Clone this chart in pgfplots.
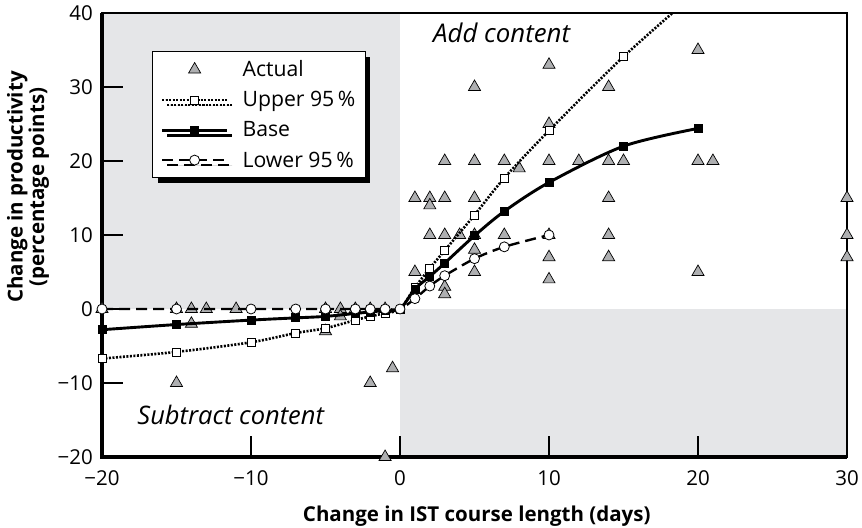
\documentclass[border=0pt]{standalone}
\usepackage{fontspec}
\setmainfont{Open Sans}
\usepackage{pgfplots}
\pgfplotsset{compat=1.18}
\usetikzlibrary{shadows}
\definecolor{bgshade}{HTML}{E5E6E8}
\definecolor{trifill}{HTML}{AEAFB1}
\begin{document}
\begin{tikzpicture}[font=\fontsize{20.5}{24.6}\selectfont]
\begin{axis}[
  name=ax,
  set layers,
  scale only axis,
  width=745pt, height=444pt,
  xmin=-20, xmax=30, ymin=-20, ymax=40,
  xtick={-20,-10,0,10,20,30},
  xticklabels={−20,−10,0,10,20,30},
  ytick={-20,-10,0,10,20,30,40},
  yticklabels={−20,−10,0,10,20,30,40},
  tick align=inside,
  tick pos=left,
  major tick length=21pt,
  tick style={line width=1.2pt, black},
  axis line style={line width=1.3pt},
  ticklabel style={font=\fontsize{20.5}{24.6}\selectfont},
  xticklabel style={inner sep=0pt, yshift=-13.5pt},
  yticklabel style={inner sep=0pt, xshift=-9pt},
  clip mode=individual,
  xlabel={Change in IST course length (days)},
  xlabel style={font=\bfseries\fontsize{20.5}{24.6}\selectfont, at={(axis description cs:0.503,-0.1457)}, anchor=base},
  ylabel={Change in productivity\\(percentage points)},
  ylabel style={font=\bfseries\fontsize{20.5}{20}\selectfont, align=center, at={(axis description cs:-0.0993,0.608)}, anchor=center},
  legend cell align=left,
  legend style={at={(axis description cs:0.0671,0.9144)}, anchor=north west,
    draw=black, line width=1.4pt, fill=white,
    font=\fontsize{21.2}{25}\selectfont,
    drop shadow={fill=black, opacity=1, shadow xshift=5pt, shadow yshift=-5pt},
    inner xsep=8pt, inner ysep=7pt, row sep=9.3pt, column sep=12pt},
  legend image code/.code={\draw[mark repeat=2,mark phase=2,#1] plot coordinates {(0pt,0pt) (32.5pt,0pt) (65pt,0pt)};},
]
\begin{pgfonlayer}{axis background}
\fill[bgshade] (axis cs:-20,0) rectangle (axis cs:0,40);
\fill[bgshade] (axis cs:0,-20) rectangle (axis cs:30,0);
\end{pgfonlayer}
\begin{pgfonlayer}{axis lines}
\draw[line width=3.6pt] (rel axis cs:0,1) -- (rel axis cs:0,0) -- (rel axis cs:1,0);
\end{pgfonlayer}

\addplot[only marks, mark=triangle*, mark size=7pt, mark options={fill=trifill, draw=black, line width=0.7pt}] coordinates {
(-20,0) (-15,0) (-14,0) (-13,0) (-11,0) (-5,0) (-4,0) (-3,0) (-2,0) (-1,0)
(-14,-2) (-4,-1) (-5,-3) (-15,-10) (-2,-10) (-0.5,-8) (-1,-20)
(1,15) (1,5)
(2,15) (2,14) (2,10)
(3,20) (3,15) (3,10) (3,3) (3,2)
(4,10)
(5,30) (5,20) (5,15) (5,10) (5,8) (5,5)
(7,20) (7,10)
(8,19)
(10,33) (10,25) (10,20) (10,10) (10,7) (10,4)
(12,20)
(14,30) (14,20) (14,15) (14,10) (14,7)
(15,20)
(20,35) (20,20) (20,5)
(21,20)
(30,15) (30,10) (30,7)
};
\addlegendentry{Actual}

\addplot[black, line width=2.6pt, dash pattern=on 2pt off 1.5pt, smooth,
  mark=square*, mark size=4pt, mark options={solid, fill=white, line width=0.8pt}] coordinates {
(-20,-6.7) (-15,-5.8) (-10,-4.5) (-7,-3.25) (-5,-2.6) (-3,-1.5) (-2,-1.0) (-1,-0.55) (0,0)
(1,2.9) (2,5.5) (3,7.9) (5,12.7) (7,17.7) (10,24.1) (15,34.1) (20,43)
};
\addlegendentry{Upper 95\,\%}

\addplot[black, line width=2.9pt, smooth,
  mark=square*, mark size=4pt, mark options={solid, fill=black, line width=0.8pt}] coordinates {
(-20,-2.8) (-15,-2.1) (-10,-1.5) (-7,-1.2) (-5,-1.0) (-3,-0.6) (-2,-0.4) (-1,-0.2) (0,0)
(1,2.7) (2,4.4) (3,6.2) (5,9.9) (7,13.2) (10,17.1) (15,22.0) (20,24.4)
};
\addlegendentry{Base}

\addplot[black, line width=2.4pt, dash pattern=on 11pt off 6pt, smooth,
  mark=*, mark size=5pt, mark options={solid, fill=white, line width=0.8pt}] coordinates {
(-20,0) (-15,0) (-10,0) (-7,0) (-5,0) (-3,0) (-2,0) (-1,0) (0,0)
(1,1.4) (2,3.1) (3,4.5) (5,6.8) (7,8.4) (10,10)
};
\addlegendentry{Lower 95\,\%}

\node[font=\itshape\fontsize{25.8}{30}\selectfont] at (axis cs:6.82,37.3) {Add content};
\node[font=\itshape\fontsize{25.5}{30}\selectfont] at (axis cs:-11.36,-14.32) {Subtract content};
\end{axis}
\pgfresetboundingbox
\path ([shift={(-102pt,-71pt)}]ax.south west) rectangle ([shift={(15pt,13pt)}]ax.north east);
\end{tikzpicture}
\end{document}
